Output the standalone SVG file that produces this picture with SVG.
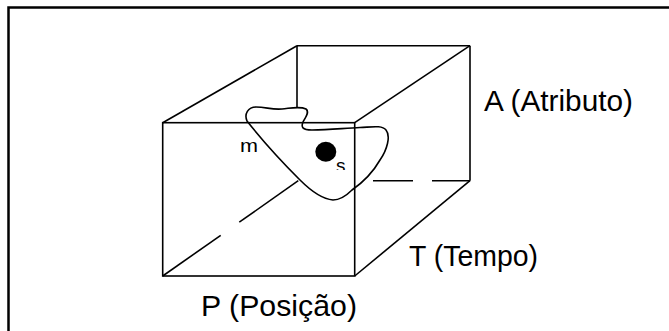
<svg xmlns="http://www.w3.org/2000/svg" width="669" height="331" viewBox="0 0 669 331">
<style>
.e{stroke:#000;stroke-width:1.6;fill:none;stroke-linecap:butt}
.lbl{font-family:"Liberation Sans",Arial,sans-serif;font-size:29px;fill:#000}
.sm{font-family:"Liberation Sans",Arial,sans-serif;font-size:19px;fill:#000}
</style>
<defs>
<clipPath id="sclip"><rect x="320" y="140" width="40" height="30"/></clipPath>
</defs>
<rect width="669" height="331" fill="#fff"/>
<rect id="frame" x="8.5" y="7.5" width="720" height="400" fill="none" stroke="#000" stroke-width="2.5"/>
<g id="hidden-edges">
<line class="e" x1="297" y1="45.7" x2="297" y2="108"/>
<line class="e" x1="162.7" y1="276" x2="220.7" y2="235.3"/>
<line class="e" x1="239.3" y1="222.2" x2="298.3" y2="180.7"/>
<line class="e" x1="373" y1="180.7" x2="413" y2="180.7"/>
<line class="e" x1="432" y1="180.7" x2="470" y2="180.7"/>
</g>
<g id="region-m">
<path class="e" style="fill:#fff" d="M247,121 C244,114 248,107 256,107 C266,107 272,110 282,109 C292,108 300,106 306,109 C310,112 305,118 303,122 C301,127 302,130 312,130 C330,130 345,128 360,127.5 C372,127 382,125 386,130 C391,136 387,150 380,160 C372,174 362,183 352,190 C345,197 340,200 333,200 C322,199 310,190 300,180 C285,165 262,140 247,121 Z"/>
<text class="sm" x="240" y="152" textLength="18" lengthAdjust="spacingAndGlyphs">m</text>
</g>
<g id="cube">
<rect class="e" x="162.7" y="122.7" width="192" height="153.3"/>
<line class="e" x1="162.7" y1="122.7" x2="297" y2="45.7"/>
<line class="e" x1="297" y1="45.7" x2="470" y2="45.7"/>
<line class="e" x1="354.7" y1="122.7" x2="470" y2="45.7"/>
<line class="e" x1="470" y1="45.7" x2="470" y2="180.7"/>
<line class="e" x1="354.7" y1="276" x2="470" y2="180.7"/>
</g>
<g id="point-s">
<ellipse cx="325.8" cy="151.7" rx="10.5" ry="10" fill="#000"/>
<text class="sm" x="336" y="172" clip-path="url(#sclip)">s</text>
</g>
<g id="labels">
<text class="lbl" x="484" y="111" textLength="149" lengthAdjust="spacingAndGlyphs">A (Atributo)</text>
<text class="lbl" x="409" y="265.5" textLength="129" lengthAdjust="spacingAndGlyphs">T (Tempo)</text>
<text class="lbl" x="201" y="316" textLength="156" lengthAdjust="spacingAndGlyphs">P (Posição)</text>
</g>
</svg>
